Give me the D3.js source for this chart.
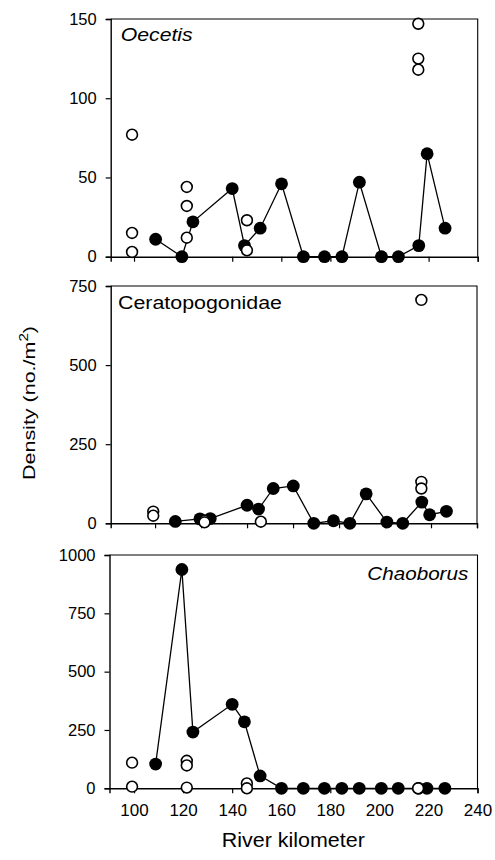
<!DOCTYPE html>
<html>
<head>
<meta charset="utf-8">
<script src="https://cdn.jsdelivr.net/npm/d3@7"></script>
<style>
  html, body { margin: 0; padding: 0; background: #fff; }
  svg { display: block; }
  text { font-family: "Liberation Sans", Arial, Helvetica, sans-serif; fill: #000; }
</style>
</head>
<body>
<svg id="chart" width="495" height="860"></svg>
<script>
// ---- data ----
const stations = [108.8, 119.5, 124, 140, 145, 151.4, 160.1, 169, 177.6, 184.7, 191.8, 200.8, 207.7, 216, 219.4, 226.7];
const oecetis         = [11, 0, 22, 43, 7, 18, 46, 0, 0, 0, 47, 0, 0, 7, 65, 18];
const ceratopogonidae = [6, 14, 15, 57, 45, 110, 118, 0, 8, 0, 93, 4, 0, 67, 27, 38];
const chaoborus       = [104, 938, 241, 360, 285, 53, 0, 0, 0, 0, 0, 0, 0, 0, 0, 0];

const openKm = [99.2, 121.5, 146, 215.8];
const oecetisOpen         = [[77, 15, 3], [44, 32, 12], [23, 4], [147, 125, 118]];
const ceratopogonidaeOpen = [[37, 24], [8, 3], [5], [706, 131, 110]];
const chaoborusOpen       = [[110, 7], [118, 98, 3], [21, 0], [0]];

const xTicks = [100, 120, 140, 160, 180, 200, 220, 240];
const oecetisTicks = [0, 50, 100, 150];
const ceratoTicks = [0, 250, 500, 750];
const chaoborusTicks = [0, 250, 500, 750, 1000];

const xTitle = "River kilometer";

// ---- layout ----
const panels = [
  { label: "Oecetis", italic: true, filled: oecetis, open: oecetisOpen, yMax: 150, yTicks: oecetisTicks,
    xDomain: [90.5, 240], left: 110.7, right: 477.7, top: 19, bottom: 256.7,
    lx: 120.7, ly: 40.5, lsize: 18, llen: 72, xLabels: false },
  { label: "Ceratopogonidae", italic: false, filled: ceratopogonidae, open: ceratopogonidaeOpen, yMax: 750, yTicks: ceratoTicks,
    xDomain: [80.7, 240], left: 110.7, right: 477, top: 286, bottom: 523.3,
    lx: 118, ly: 309.3, lsize: 17.5, llen: 164, xLabels: false },
  { label: "Chaoborus", italic: true, filled: chaoborus, open: chaoborusOpen, yMax: 1000, yTicks: chaoborusTicks,
    xDomain: [90, 240], left: 109.5, right: 477.5, top: 555, bottom: 788.3,
    lx: 367.3, ly: 580, lsize: 18, llen: 101, xLabels: true }
];

const svg = d3.select("#chart");

panels.forEach(p => {
  const x = d3.scaleLinear().domain(p.xDomain).range([p.left, p.right]);
  const y = d3.scaleLinear().domain([0, p.yMax]).range([p.bottom, p.top]);
  const g = svg.append("g");

  // frame (top + right)
  g.append("path")
    .attr("d", `M${p.left},${p.top}H${p.right}V${p.bottom}`)
    .attr("fill", "none").attr("stroke", "#000").attr("stroke-width", 1.1);

  // y axis
  const ya = g.append("g").attr("transform", `translate(${p.left},0)`)
    .call(d3.axisLeft(y).tickValues(p.yTicks).tickSize(5).tickPadding(9).tickFormat(d3.format("d")));
  ya.select(".domain").attr("stroke-width", 1.4);
  ya.selectAll(".tick line").attr("stroke-width", 1.2);
  ya.selectAll("text").attr("font-size", 16.5).attr("font-family", "Liberation Sans, Arial, sans-serif").attr("fill", "#000");

  // x axis
  const xa = g.append("g").attr("transform", `translate(0,${p.bottom})`)
    .call(d3.axisBottom(x).tickValues(xTicks).tickSize(5).tickPadding(11)
      .tickFormat(p.xLabels ? d3.format("d") : () => ""));
  xa.select(".domain").attr("stroke-width", 1.4);
  xa.selectAll(".tick line").attr("stroke-width", 1.2);
  xa.selectAll("text").attr("font-size", 17).attr("font-family", "Liberation Sans, Arial, sans-serif").attr("fill", "#000");

  // connecting line
  const pts = stations.map((s, i) => [s, p.filled[i]]);
  g.append("path").datum(pts)
    .attr("d", d3.line().x(d => x(d[0])).y(d => y(d[1])))
    .attr("fill", "none").attr("stroke", "#000").attr("stroke-width", 1.3);

  // filled circles
  g.selectAll("circle.f").data(pts).join("circle").attr("class", "f")
    .attr("cx", d => x(d[0])).attr("cy", d => y(d[1])).attr("r", 6.4)
    .attr("fill", "#000");

  // open circles
  const openPts = [];
  openKm.forEach((k, i) => p.open[i].forEach(v => openPts.push([k, v])));
  g.selectAll("circle.o").data(openPts).join("circle").attr("class", "o")
    .attr("cx", d => x(d[0])).attr("cy", d => y(d[1])).attr("r", 5.4)
    .attr("fill", "#fff").attr("stroke", "#000").attr("stroke-width", 1.6);

  // panel label
  g.append("text").attr("x", p.lx).attr("y", p.ly)
    .attr("font-size", p.lsize)
    .attr("font-style", p.italic ? "italic" : "normal")
    .attr("textLength", p.llen).attr("lengthAdjust", "spacingAndGlyphs")
    .text(p.label);
});

// x axis title
svg.append("text").attr("x", 293.3).attr("y", 847)
  .attr("text-anchor", "middle").attr("font-size", 19.5)
  .attr("textLength", 143).attr("lengthAdjust", "spacingAndGlyphs")
  .text(xTitle);

// y axis title
const yt = svg.append("text")
  .attr("transform", "translate(35,403) rotate(-90)")
  .attr("text-anchor", "middle").attr("font-size", 17)
  .attr("textLength", 154).attr("lengthAdjust", "spacingAndGlyphs");
yt.append("tspan").text("Density (no./m");
yt.append("tspan").attr("font-size", 12).attr("dy", -7).text("2");
yt.append("tspan").attr("dy", 7).text(")");
</script>
</body>
</html>
